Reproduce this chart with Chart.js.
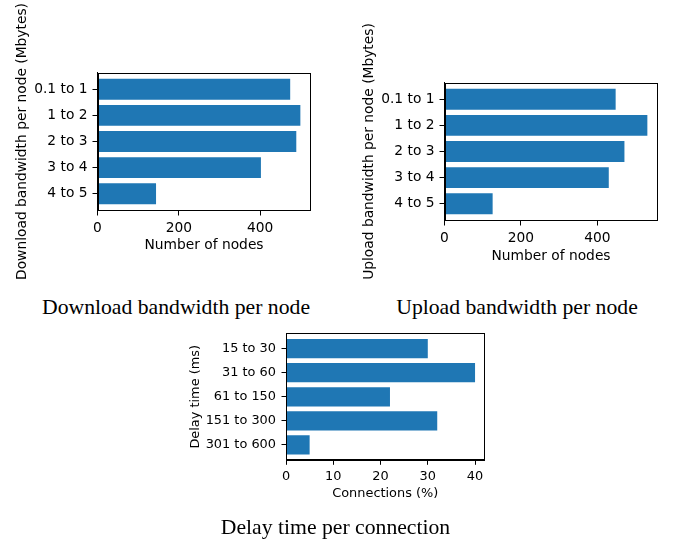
<!DOCTYPE html>
<html>
<head>
<meta charset="utf-8">
<script src="https://cdn.jsdelivr.net/npm/chart.js@4/dist/chart.umd.min.js"></script>
<style>
  body { margin: 0; background: #fff; }
  #wrap { position: relative; width: 673px; height: 544px; overflow: hidden; }
  canvas { position: absolute; }
  .cap {
    position: absolute; font-family: "Liberation Serif", "Times New Roman", serif;
    font-size: 21.7px; line-height: 21.7px; color: #000; white-space: nowrap;
    transform: translateX(-50%); z-index: 2;
  }
</style>
</head>
<body>
<div id="wrap">
  <canvas id="down" width="336" height="295" style="left:0px;top:0px"></canvas>
  <canvas id="up" width="333" height="295" style="left:340px;top:0px"></canvas>
  <canvas id="delay" width="333" height="224" style="left:170px;top:320px"></canvas>
  <div class="cap" style="left:176px;top:297px">Download bandwidth per node</div>
  <div class="cap" style="left:517px;top:297px">Upload bandwidth per node</div>
  <div class="cap" style="left:335.5px;top:517px">Delay time per connection</div>
</div>
<script>
// data
const bandwidthCats = ['0.1 to 1', '1 to 2', '2 to 3', '3 to 4', '4 to 5'];
const downloadNodes = [474, 499, 489, 402, 144];
const uploadNodes = [448, 531, 471, 430, 126];
const nodeTicks = [0, 200, 400];

const delayCats = ['15 to 30', '31 to 60', '61 to 150', '151 to 300', '301 to 600'];
const delayPct = [30, 40, 22, 32, 5];
const pctTicks = [0, 10, 20, 30, 40];

// draws the top and right spines like matplotlib
const boxPlugin = {
  id: 'box',
  afterDraw(chart) {
    const a = chart.chartArea;
    const ctx = chart.ctx;
    ctx.save();
    ctx.strokeStyle = '#000';
    ctx.lineWidth = 1;
    const l = Math.round(a.left) + 0.5, r = Math.round(a.right) - 0.5;
    const t = Math.round(a.top) + 0.5, b = Math.round(a.bottom) - 0.5;
    ctx.strokeRect(l, t, r - l, b - t);
    ctx.restore();
  }
};

// g: geometry relative to the canvas
function makeChart(id, cats, values, ticks, yTitle, xTitle, g) {
  const n = cats.length;
  const margin = 0.4 + 0.05 * (n - 1 + 0.8);
  const half = g.font * 1.2 / 2;
  const yLeft = g.yTitleMid - half;
  const xBottom = g.xTitleMid + half;
  const font = { family: 'DejaVu Sans', size: g.font };

  new Chart(document.getElementById(id), {
    type: 'bar',
    data: {
      datasets: [{
        data: values.map((v, i) => ({ x: v, y: i })),
        backgroundColor: '#1f77b4',
        borderWidth: 0,
        barPercentage: 1,
        categoryPercentage: 0.8
      }]
    },
    options: {
      indexAxis: 'y',
      responsive: false,
      animation: false,
      events: [],
      layout: {
        padding: {
          left: yLeft,
          top: g.top,
          right: g.w - g.right,
          bottom: g.h - xBottom
        }
      },
      plugins: { legend: { display: false }, tooltip: { enabled: false } },
      scales: {
        x: {
          type: 'linear',
          min: 0,
          max: Math.max(...values) * 1.05,
          offset: false,
          afterBuildTicks: s => { s.ticks = ticks.map(v => ({ value: v })); },
          afterFit: s => { s.height = xBottom - g.bottom; },
          ticks: { font, color: '#000', padding: g.xPad, autoSkip: false, maxRotation: 0 },
          grid: { offset: false, drawOnChartArea: false, drawTicks: true, tickLength: g.tick, color: '#000' },
          border: { display: true, color: '#000', width: 1 },
          title: { display: true, text: xTitle, font, color: '#000', padding: 0 }
        },
        y: {
          type: 'linear',
          reverse: true,
          min: -margin,
          max: n - 1 + margin,
          offset: false,
          afterBuildTicks: s => { s.ticks = cats.map((c, i) => ({ value: i })); },
          afterFit: s => { s.width = g.left - yLeft; },
          ticks: { font, color: '#000', padding: g.yPad, autoSkip: false, callback: v => cats[v] },
          grid: { offset: false, drawOnChartArea: false, drawTicks: true, tickLength: g.tick, color: '#000' },
          border: { display: true, color: '#000', width: 1 },
          title: { display: true, text: yTitle, font, color: '#000', padding: 0 }
        }
      }
    },
    plugins: [boxPlugin]
  });
}

makeChart('down', bandwidthCats, downloadNodes, nodeTicks,
  'Download bandwidth per node (Mbytes)', 'Number of nodes',
  { w: 336, h: 295, left: 97.5, right: 310.5, top: 72.5, bottom: 210.5,
    yTitleMid: 22.6, xTitleMid: 245.5, font: 13.8, tick: 5, xPad: 4.5, yPad: 5 });

makeChart('up', bandwidthCats, uploadNodes, nodeTicks,
  'Upload bandwidth per node (Mbytes)', 'Number of nodes',
  { w: 333, h: 295, left: 104.5, right: 317.5, top: 82.5, bottom: 220.5,
    yTitleMid: 29.4, xTitleMid: 256, font: 13.8, tick: 5, xPad: 4.5, yPad: 5 });

makeChart('delay', delayCats, delayPct, pctTicks,
  'Delay time (ms)', 'Connections (%)',
  { w: 333, h: 224, left: 116, right: 314.5, top: 12.3, bottom: 140.3,
    yTitleMid: 25.5, xTitleMid: 174, font: 12.9, tick: 4.5, xPad: 3.8, yPad: 5.5 });
</script>
</body>
</html>
